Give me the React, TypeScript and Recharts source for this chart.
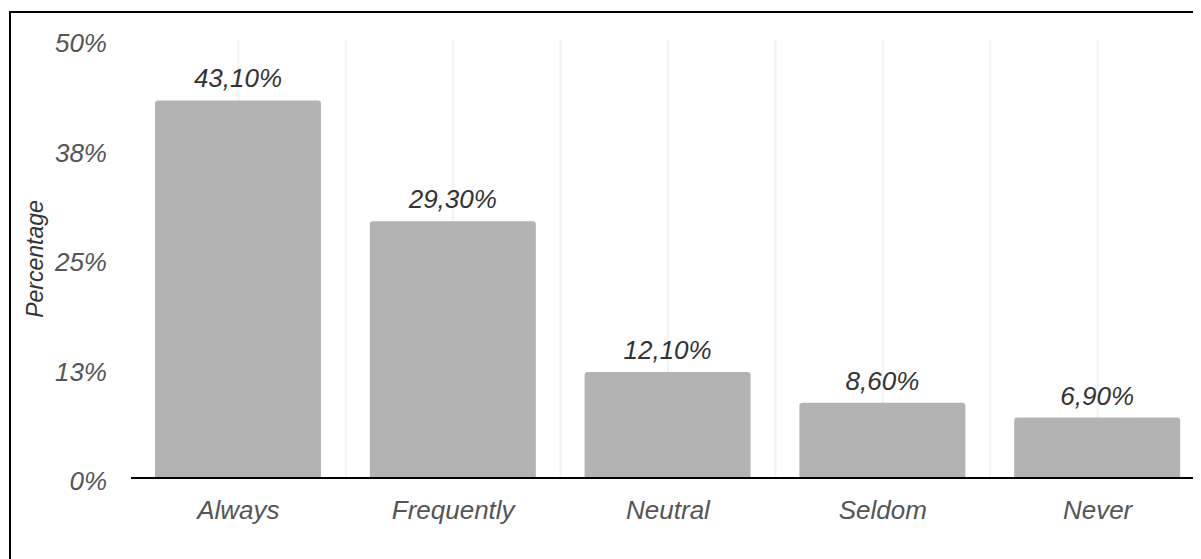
import { BarChart, Bar, XAxis, YAxis, CartesianGrid, LabelList, Label } from "recharts"

const categories = ["Always", "Frequently", "Neutral", "Seldom", "Never"]
const percentages = [43.1, 29.3, 12.1, 8.6, 6.9]
const yTicks = [0, 12.5, 25, 37.5, 50]

const FONT = "'Liberation Sans', Arial, sans-serif"

const chartData = categories.map((name, i) => ({ name, value: percentages[i] }))

// faint vertical guides at every half category band
const halfBandLines = ({ offset }: any) => {
  const step = offset.width / (categories.length * 2)
  const lines: number[] = []
  for (let i = 1; i < categories.length * 2; i++) lines.push(offset.left + i * step)
  return lines
}

const AxisTitle = (props: any) => {
  const { viewBox } = props
  const cx = 24
  const cy = viewBox.y + viewBox.height / 2
  return (
    <text
      x={cx}
      y={cy}
      transform={`rotate(-90, ${cx}, ${cy})`}
      textAnchor="middle"
      dominantBaseline="central"
      fontFamily={FONT}
      fontStyle="italic"
      fontSize={23}
      fill="#333"
    >
      Percentage
    </text>
  )
}

export default function App() {
  return (
    <div style={{ width: 1193, height: 551, overflow: "hidden", paddingTop: 3, paddingLeft: 1, boxSizing: "border-box" }}>
      <div style={{ width: 1240, height: 600, border: "2px solid #000", background: "#fff" }}>
        <BarChart
          width={1230}
          height={560}
          data={chartData}
          margin={{ top: 27, right: 36, left: 0, bottom: 65 }}
        >
          <CartesianGrid
            horizontal={false}
            vertical
            stroke="#f3f3f3"
            strokeWidth={2}
            verticalCoordinatesGenerator={halfBandLines}
          />
          <XAxis
            dataKey="name"
            height={30}
            axisLine={{ stroke: "#000", strokeWidth: 2 }}
            tickLine={false}
            tickSize={0}
            tickMargin={23}
            tick={{ fill: "#555", fontSize: 26, fontStyle: "italic", fontFamily: FONT }}
          />
          <YAxis
            width={120}
            domain={[0, 50]}
            ticks={yTicks}
            axisLine={false}
            tickLine={false}
            tickSize={0}
            tickMargin={24}
            tickFormatter={(v: number) => `${Math.round(v)}%`}
            tick={{ fill: "#555", fontSize: 26, fontStyle: "italic", fontFamily: FONT, dy: 3 }}
          >
            <Label content={<AxisTitle />} />
          </YAxis>
          <Bar dataKey="value" fill="#b3b3b3" barSize={166} radius={[3, 3, 0, 0]} isAnimationActive={false}>
            <LabelList
              dataKey="value"
              position="top"
              offset={13}
              formatter={(v: any) => `${Number(v).toFixed(2).replace(".", ",")}%`}
              style={{ fill: "#333", fontSize: 26, fontStyle: "italic", fontFamily: FONT }}
            />
          </Bar>
        </BarChart>
      </div>
    </div>
  )
}
